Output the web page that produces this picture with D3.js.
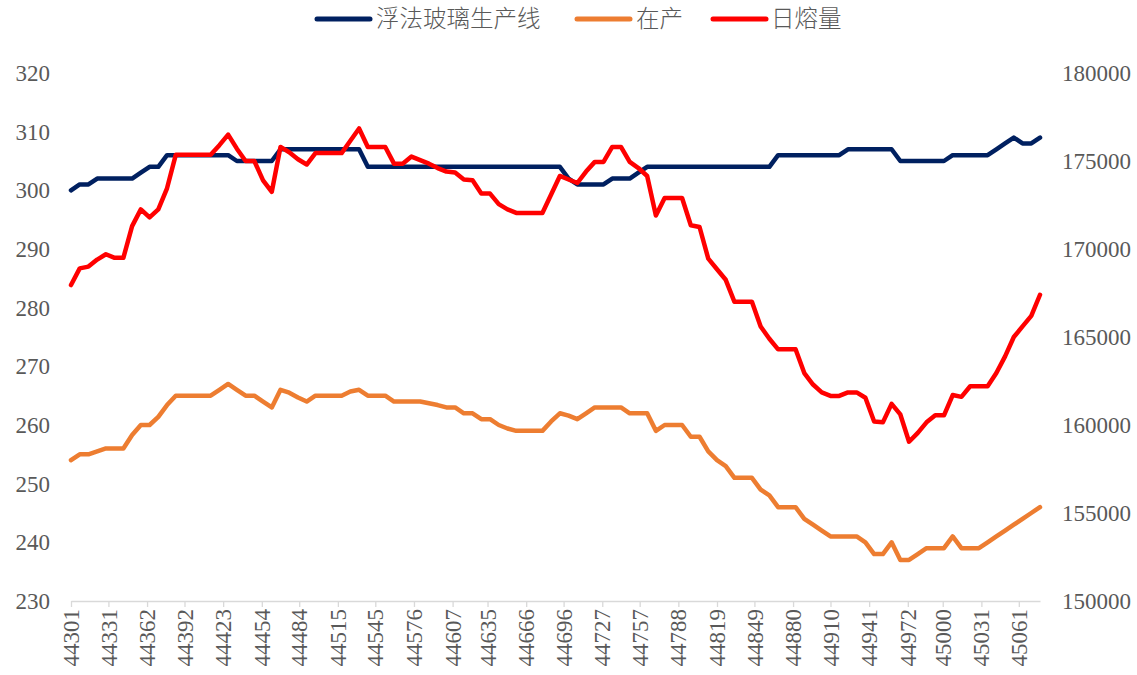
<!DOCTYPE html>
<html>
<head>
<meta charset="utf-8">
<script src="https://cdn.jsdelivr.net/npm/d3@7.9.0/dist/d3.min.js"></script>
<style>
  body { margin: 0; background: #fff; }
  svg text { fill: #595959; }
  .num text { font-family: "Liberation Serif", "Times New Roman", serif; font-size: 23px; }
</style>
</head>
<body>
<svg id="chart" width="1137" height="675"></svg>
<script>
// weekly dates (Excel serial numbers)
const dates = [
  44301, 44308, 44315, 44322, 44329, 44336, 44343, 44350, 44357, 44364,
  44371, 44378, 44385, 44392, 44399, 44406, 44413, 44420, 44427, 44434,
  44441, 44448, 44455, 44462, 44469, 44476, 44483, 44490, 44497, 44504,
  44511, 44518, 44525, 44532, 44539, 44546, 44553, 44560, 44567, 44574,
  44581, 44588, 44595, 44602, 44609, 44616, 44623, 44630, 44637, 44644,
  44651, 44658, 44665, 44672, 44679, 44686, 44693, 44700, 44707, 44714,
  44721, 44728, 44735, 44742, 44749, 44756, 44763, 44770, 44777, 44784,
  44791, 44798, 44805, 44812, 44819, 44826, 44833, 44840, 44847, 44854,
  44861, 44868, 44875, 44882, 44889, 44896, 44903, 44910, 44917, 44924,
  44931, 44938, 44945, 44952, 44959, 44966, 44973, 44980, 44987, 44994,
  45001, 45008, 45015, 45022, 45029, 45036, 45043, 45050, 45057, 45064,
  45071, 45078
];

// 浮法玻璃生产线 (left axis)
const lines = [
  300, 301, 301, 302, 302, 302, 302, 302, 303, 304,
  304, 306, 306, 306, 306, 306, 306, 306, 306, 305,
  305, 305, 305, 305, 307, 307, 307, 307, 307, 307,
  307, 307, 307, 307, 304, 304, 304, 304, 304, 304,
  304, 304, 304, 304, 304, 304, 304, 304, 304, 304,
  304, 304, 304, 304, 304, 304, 304, 302, 301, 301,
  301, 301, 302, 302, 302, 303, 304, 304, 304, 304,
  304, 304, 304, 304, 304, 304, 304, 304, 304, 304,
  304, 306, 306, 306, 306, 306, 306, 306, 306, 307,
  307, 307, 307, 307, 307, 305, 305, 305, 305, 305,
  305, 306, 306, 306, 306, 306, 307, 308, 309, 308,
  308, 309
];

// 在产 (left axis)
const running = [
  254, 255, 255, 255.5, 256, 256, 256, 258.3, 260, 260,
  261.4, 263.4, 265, 265, 265, 265, 265, 266, 267, 266,
  265, 265, 264, 263, 266, 265.5, 264.7, 264, 265, 265,
  265, 265, 265.7, 266, 265, 265, 265, 264, 264, 264,
  264, 263.7, 263.4, 263, 263, 262, 262, 261, 261, 260,
  259.4, 259, 259, 259, 259, 260.6, 262, 261.6, 261, 262,
  263, 263, 263, 263, 262, 262, 262, 259, 260, 260,
  260, 258, 258, 255.5, 254, 253, 251, 251, 251, 249,
  248, 246, 246, 246, 244, 243, 242, 241, 241, 241,
  241, 240, 238, 238, 240, 237, 237, 238, 239, 239,
  239, 241, 239, 239, 239, 240, 241, 242, 243, 244,
  245, 246
];

// 日熔量 (right axis)
const melt = [
  167950, 168900, 169000, 169400, 169700, 169500, 169500, 171300, 172250, 171800,
  172250, 173450, 175350, 175350, 175350, 175350, 175350, 175900, 176500, 175700,
  175000, 175000, 173900, 173250, 175800, 175500, 175100, 174800, 175450, 175450,
  175450, 175450, 176150, 176850, 175800, 175800, 175800, 174850, 174850, 175250,
  175050, 174850, 174600, 174400, 174350, 173950, 173900, 173150, 173150, 172550,
  172250, 172050, 172050, 172050, 172050, 173100, 174150, 173950, 173750, 174400,
  174950, 174950, 175800, 175800, 174950, 174600, 174150, 171900, 172900, 172900,
  172900, 171350, 171250, 169450, 168850, 168250, 167000, 167000, 167000, 165600,
  164900, 164300, 164300, 164300, 162950, 162300, 161850, 161650, 161650, 161850,
  161850, 161550, 160200, 160150, 161200, 160600, 159050, 159550, 160150, 160550,
  160550, 161700, 161600, 162200, 162200, 162200, 162950, 163900, 165000, 165600,
  166200, 167400
];

const xTicks = [44301, 44331, 44362, 44392, 44423, 44454, 44484, 44515, 44545, 44576,
  44607, 44635, 44666, 44696, 44727, 44757, 44788, 44819, 44849, 44880,
  44910, 44941, 44972, 45000, 45031, 45061];
const leftTicks = [230, 240, 250, 260, 270, 280, 290, 300, 310, 320];
const rightTicks = [150000, 155000, 160000, 165000, 170000, 175000, 180000];

const series = [
  { name: '浮法玻璃生产线', values: lines, axis: 'left', color: '#002060' },
  { name: '在产', values: running, axis: 'left', color: '#ED7D31' },
  { name: '日熔量', values: melt, axis: 'right', color: '#FF0000' }
];

const svg = d3.select('#chart');
const plot = { left: 71, right: 1040, top: 73, bottom: 601 };
const numFont = '"Liberation Serif", "Times New Roman", serif';

const x = d3.scaleLinear().domain([44301, 45078]).range([plot.left, plot.right]);
const yL = d3.scaleLinear().domain([230, 320]).range([plot.bottom, plot.top]);
const yR = d3.scaleLinear().domain([150000, 180000]).range([plot.bottom, plot.top]);

// x axis
const xAxis = svg.append('g')
  .attr('class', 'num')
  .attr('transform', `translate(0,${plot.bottom})`)
  .call(d3.axisBottom(x).tickValues(xTicks).tickFormat(d3.format('d')).tickSize(6).tickSizeOuter(0))
  .attr('font-family', numFont)
  .attr('font-size', 23);
xAxis.select('.domain').attr('stroke', '#d9d9d9').attr('stroke-width', 1.3);
xAxis.selectAll('.tick line').attr('stroke', '#d9d9d9').attr('stroke-width', 1.3);
xAxis.selectAll('.tick text')
  .attr('transform', 'rotate(-90)')
  .attr('x', -8)
  .attr('y', 0)
  .attr('dy', '0.33em')
  .attr('text-anchor', 'end');

// left axis
const lAxis = svg.append('g')
  .attr('class', 'num')
  .attr('transform', `translate(${plot.left},0)`)
  .call(d3.axisLeft(yL).tickValues(leftTicks).tickSize(0).tickPadding(21))
  .attr('font-family', numFont)
  .attr('font-size', 23);
lAxis.select('.domain').remove();

// right axis
const rAxis = svg.append('g')
  .attr('class', 'num')
  .attr('transform', `translate(${plot.right},0)`)
  .call(d3.axisRight(yR).tickValues(rightTicks).tickFormat(d3.format('d')).tickSize(0).tickPadding(22))
  .attr('font-family', numFont)
  .attr('font-size', 23);
rAxis.select('.domain').remove();

// lines
series.forEach(s => {
  const y = s.axis === 'left' ? yL : yR;
  const line = d3.line()
    .x((d, i) => x(dates[i]))
    .y(d => y(d));
  svg.append('path')
    .datum(s.values)
    .attr('fill', 'none')
    .attr('stroke', s.color)
    .attr('stroke-width', 4.5)
    .attr('stroke-linejoin', 'round')
    .attr('stroke-linecap', 'round')
    .attr('d', line);
});

// legend
const legendItems = [
  { x: 317, textX: 376 },
  { x: 577, textX: 636 },
  { x: 713, textX: 771 }
];
const legend = svg.append('g');
series.forEach((s, i) => {
  const p = legendItems[i];
  legend.append('line')
    .attr('x1', p.x).attr('x2', p.x + 53)
    .attr('y1', 19).attr('y2', 19)
    .attr('stroke', s.color)
    .attr('stroke-width', 5)
    .attr('stroke-linecap', 'round');
  legend.append('text')
    .attr('x', p.textX)
    .attr('y', 19)
    .attr('dy', '0.36em')
    .style('font-family', '"Noto Sans CJK SC", sans-serif')
    .style('font-weight', 300)
    .style('font-size', '23.5px')
    .text(s.name);
});
</script>
</body>
</html>
